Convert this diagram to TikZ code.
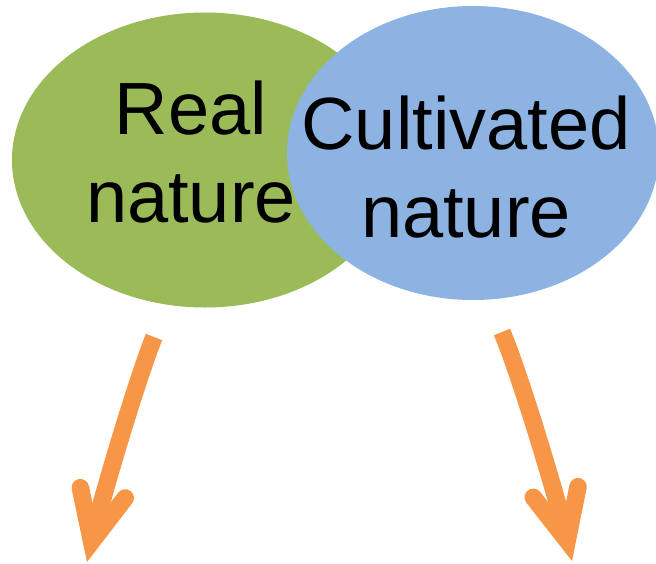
\documentclass[tikz,border=0pt]{standalone}
\usepackage{fontspec}
\setmainfont{Liberation Sans}
\usetikzlibrary{shapes.geometric,arrows.meta}
\definecolor{natgreen}{HTML}{9BBB59}
\definecolor{natblue}{HTML}{8DB3E2}
\definecolor{natorange}{HTML}{F79646}
\begin{document}
\begin{tikzpicture}[x=1pt,y=-1pt,
  blob/.style={ellipse,draw=none,inner sep=0pt},
  bigtext/.style={inner sep=0pt,align=center,font={\fontsize{74pt}{88pt}\selectfont}},
  bigarrow/.style={draw=natorange,line width=17.5pt,line cap=butt,
    -{Straight Barb[length=50pt,width=46pt,line width=17.5pt,line cap=round,line join=miter]}}]
\useasboundingbox (0,0) rectangle (656,563);
\node[blob,fill=natgreen,minimum width=386pt,minimum height=295pt] (real) at (205,160) {};
\node[blob,fill=natblue,minimum width=372pt,minimum height=294pt] (cult) at (473,153) {};
\node[bigtext] (realtxt) at (191,152) {Real\\nature};
\node[bigtext] (culttxt) at (466,167) {Cultivated\\nature};
\coordinate (ls) at (154,337);
\coordinate (le) at (87,562);
\coordinate (rs) at (502,332);
\coordinate (re) at (572,561);
\draw[bigarrow] (ls) .. controls (135,385) and (100,505) .. (le);
\draw[bigarrow] (rs) .. controls (522,380) and (558,502) .. (re);
\end{tikzpicture}
\end{document}
